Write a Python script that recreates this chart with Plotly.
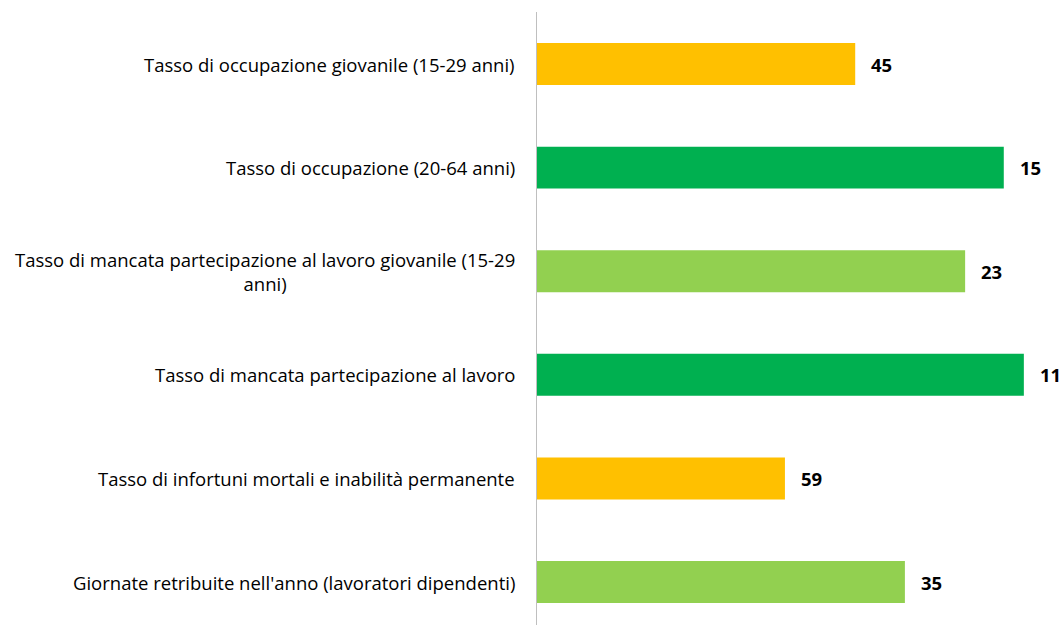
import plotly.graph_objects as go

categories = [
    "Tasso di occupazione giovanile (15-29 anni)",
    "Tasso di occupazione (20-64 anni)",
    "Tasso di mancata partecipazione al lavoro giovanile (15-29<br>anni)",
    "Tasso di mancata partecipazione al lavoro",
    "Tasso di infortuni mortali e inabilità permanente",
    "Giornate retribuite nell'anno (lavoratori dipendenti)",
]
values = [63.4, 93, 85.3, 97, 49.4, 73.3]
rank_labels = ["45", "15", "23", "11", "59", "35"]
colors = ["#FFC000", "#00B050", "#92D050", "#00B050", "#FFC000", "#92D050"]

FONT = "Open Sans"
LABEL_SIZE = 18.5
ids = [f"c{i}" for i in range(len(categories))]

fig = go.Figure()
fig.add_trace(go.Bar(
    x=values, y=ids, orientation="h",
    marker=dict(color=colors, line=dict(width=0)),
    width=0.405, hoverinfo="skip",
))

annotations = []
for cid, cat, v, lab in zip(ids, categories, values, rank_labels):
    annotations.append(dict(
        x=0, xref="paper", y=cid, yref="y", text=cat, showarrow=False,
        xanchor="right", yanchor="middle", align="center", xshift=-20,
        font=dict(family=FONT, size=LABEL_SIZE, color="#000000"),
    ))
    annotations.append(dict(
        x=v, xref="x", y=cid, yref="y", text=f"<b>{lab}</b>", showarrow=False,
        xanchor="left", yanchor="middle", xshift=14,
        font=dict(family=FONT, size=LABEL_SIZE, color="#000000"),
    ))

fig.update_layout(
    width=1062, height=625,
    margin=dict(l=537, r=0, t=12, b=0),
    paper_bgcolor="white", plot_bgcolor="white",
    showlegend=False,
    annotations=annotations,
    xaxis=dict(range=[0, 104.6], showgrid=False, zeroline=False,
               showticklabels=False, ticks="", showline=False),
    yaxis=dict(type="category", range=[5.415, -0.502], showgrid=False,
               zeroline=False, showticklabels=False, ticks="",
               showline=True, linecolor="#BFBFBF", linewidth=1.5),
)

fig.write_html(
    "out.html",
    config={"displayModeBar": False, "staticPlot": True},
    post_script="document.body.style.margin='0';document.body.style.overflow='hidden';",
)
